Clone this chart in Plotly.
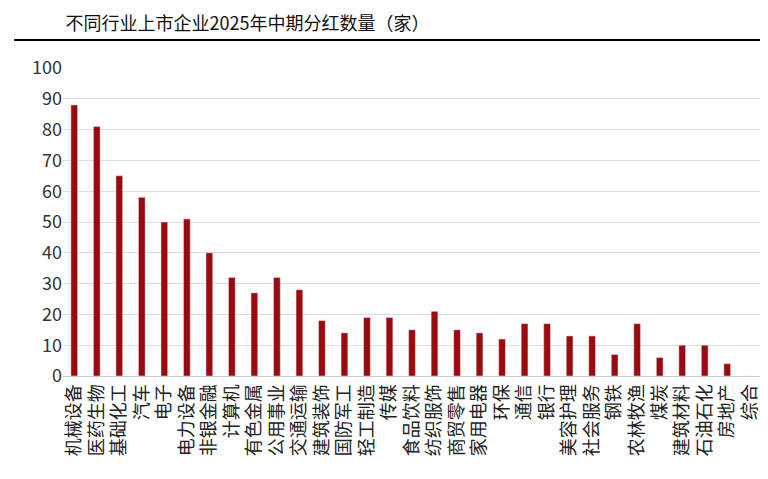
import plotly.graph_objects as go

industries = ["机械设备", "医药生物", "基础化工", "汽车", "电子", "电力设备", "非银金融", "计算机",
              "有色金属", "公用事业", "交通运输", "建筑装饰", "国防军工", "轻工制造", "传媒", "食品饮料",
              "纺织服饰", "商贸零售", "家用电器", "环保", "通信", "银行", "美容护理", "社会服务",
              "钢铁", "农林牧渔", "煤炭", "建筑材料", "石油石化", "房地产", "综合"]
counts = [88, 81, 65, 58, 50, 51, 40, 32, 27, 32, 28, 18, 14, 19, 19, 15,
          21, 15, 14, 12, 17, 17, 13, 13, 7, 17, 6, 10, 10, 4, 0]

fig = go.Figure(go.Bar(x=industries, y=counts, marker_color="#9b0a0e", width=0.3))

fig.update_layout(
    width=768, height=479, plot_bgcolor="white", paper_bgcolor="white",
    margin=dict(l=55, r=15, t=60, b=111, autoexpand=False),
    showlegend=False,
    font=dict(family="Noto Sans CJK SC", color="#222"),
    title=dict(text="不同行业上市企业2025年中期分红数量（家）", x=0.075, y=0.968, yanchor="middle",
               font=dict(size=18, color="#111")),
    shapes=[dict(type="line", xref="paper", yref="paper", x0=-0.07, x1=1.02, y0=1.091, y1=1.091,
                 line=dict(color="black", width=2))],
)
fig.update_xaxes(tickangle=-90, tickfont=dict(size=18), showline=True, linecolor="#cccccc",
                 ticks="", automargin=False)
fig.update_yaxes(range=[0, 100], dtick=10, gridcolor="#dddddd", tickfont=dict(size=18, color="#333"),
                 zeroline=False, automargin=False)

fig.write_html("out.html")
